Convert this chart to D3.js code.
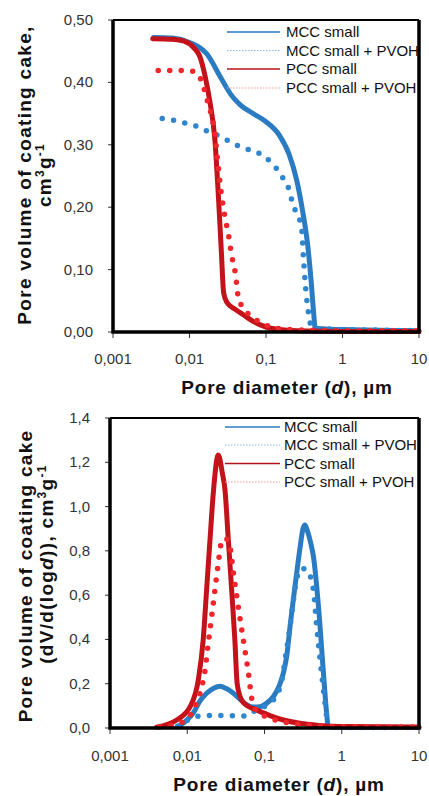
<!DOCTYPE html>
<html>
<head>
<meta charset="utf-8">
<script src="https://cdn.jsdelivr.net/npm/d3@7"></script>
<style>
    body { margin: 0; background: #fff; }
    svg { display: block; font-family: 'Liberation Sans', Arial, sans-serif; }
</style>
</head>
<body>
<svg id="chart" width="429" height="796"></svg>
<script>
// Series names (legend)
const seriesNames = ['MCC small', 'MCC small + PVOH', 'PCC small', 'PCC small + PVOH'];

// x axis (pore diameter, µm)
const xTicks = [0.001, 0.01, 0.1, 1, 10];
const xTickLabels = ['0,001', '0,01', '0,1', '1', '10'];

// top chart: cumulative pore volume, cm3/g  [d, value]
const topTicks = [0, 0.1, 0.2, 0.3, 0.4, 0.5];
const topTickLabels = ['0,00', '0,10', '0,20', '0,30', '0,40', '0,50'];
const topMcc = [[0.0034,0.472],[0.006,0.471],[0.01,0.464],[0.017,0.445],[0.025,0.41],[0.035,0.38],[0.046,0.364],[0.068,0.35],[0.1,0.337],[0.15,0.315],[0.2,0.285],[0.25,0.245],[0.3,0.195],[0.35,0.14],[0.39,0.08],[0.42,0.03],[0.44,0.006],[0.6,0.005],[1,0.004],[3,0.003],[10,0.002]];
const topMccPvoh = [[0.0044,0.342],[0.0064,0.339],[0.0093,0.334],[0.0136,0.328],[0.019,0.319],[0.026,0.313],[0.037,0.302],[0.053,0.294],[0.076,0.288],[0.1,0.279],[0.135,0.263],[0.166,0.247],[0.2,0.228],[0.22,0.209],[0.25,0.19],[0.29,0.17],[0.31,0.115],[0.33,0.07],[0.36,0.03],[0.40,0.006],[0.6,0.005],[1,0.004],[3,0.003],[10,0.002]];
const topPcc = [[0.0033,0.47],[0.006,0.469],[0.0085,0.466],[0.0115,0.455],[0.0137,0.441],[0.016,0.41],[0.0186,0.367],[0.0214,0.31],[0.024,0.212],[0.026,0.132],[0.028,0.062],[0.031,0.047],[0.04,0.036],[0.05,0.028],[0.068,0.017],[0.1,0.008],[0.15,0.004],[0.25,0.002],[1,0.001],[10,0.001]];
const topPccPvoh = [[0.0039,0.419],[0.006,0.419],[0.0085,0.419],[0.0118,0.417],[0.0146,0.40],[0.017,0.372],[0.0195,0.345],[0.0214,0.319],[0.023,0.281],[0.026,0.223],[0.029,0.185],[0.032,0.159],[0.036,0.119],[0.039,0.10],[0.041,0.08],[0.043,0.059],[0.049,0.04],[0.062,0.027],[0.1,0.011],[0.2,0.004],[1,0.002],[10,0.002]];

// bottom chart: dV/d(log d), cm3/g  [d, value]
const botTicks = [0, 0.2, 0.4, 0.6, 0.8, 1.0, 1.2, 1.4];
const botTickLabels = ['0,0', '0,2', '0,4', '0,6', '0,8', '1,0', '1,2', '1,4'];
const botMcc = [[0.0075,0.005],[0.0095,0.03],[0.012,0.068],[0.0145,0.12],[0.0178,0.157],[0.022,0.18],[0.0266,0.188],[0.032,0.178],[0.0396,0.157],[0.05,0.125],[0.059,0.104],[0.07,0.095],[0.087,0.096],[0.105,0.11],[0.13,0.141],[0.155,0.19],[0.176,0.25],[0.195,0.33],[0.214,0.458],[0.24,0.6],[0.261,0.70],[0.29,0.82],[0.315,0.9],[0.334,0.917],[0.36,0.89],[0.40,0.83],[0.43,0.774],[0.50,0.548],[0.58,0.247],[0.64,0.06],[0.67,0.005],[1,0.002],[10,0.002]];
const botMccPvoh = [[0.0075,0.008],[0.0089,0.021],[0.0105,0.04],[0.0126,0.052],[0.0186,0.056],[0.027,0.057],[0.039,0.055],[0.056,0.054],[0.07,0.072],[0.087,0.09],[0.105,0.1],[0.13,0.126],[0.168,0.217],[0.19,0.337],[0.214,0.458],[0.237,0.578],[0.26,0.67],[0.3,0.72],[0.35,0.715],[0.43,0.623],[0.47,0.473],[0.52,0.322],[0.58,0.172],[0.64,0.051],[0.68,0.005],[1,0.003],[10,0.002]];
const botPcc = [[0.004,0.004],[0.0073,0.036],[0.0109,0.096],[0.0139,0.217],[0.0161,0.40],[0.0178,0.623],[0.0197,0.85],[0.0219,1.075],[0.0252,1.233],[0.0285,1.15],[0.0308,1.075],[0.034,0.85],[0.0376,0.623],[0.0413,0.40],[0.0443,0.20],[0.0506,0.126],[0.06,0.1],[0.0794,0.081],[0.12,0.055],[0.176,0.036],[0.3,0.02],[0.47,0.013],[1,0.007],[10,0.004]];
const botPccPvoh = [[0.0044,0.004],[0.0089,0.028],[0.0119,0.081],[0.0146,0.157],[0.017,0.262],[0.0187,0.383],[0.0207,0.503],[0.0228,0.623],[0.0252,0.744],[0.0278,0.84],[0.031,0.857],[0.0357,0.819],[0.0396,0.70],[0.0457,0.548],[0.0532,0.397],[0.062,0.247],[0.0682,0.134],[0.075,0.09],[0.087,0.066],[0.176,0.028],[0.4,0.012],[1,0.006],[10,0.004]];

const colors = ['#2a7bc2', '#2f86cf', '#c4121a', '#f0262a'];
const legendColors = ['#2a7bc2', '#8fb8de', '#b3141c', '#f09a9a'];

const svg = d3.select('#chart');

// Draw one panel
function drawPanel(cfg) {
    const g = svg.append('g');
    const x = d3.scaleLog().domain([0.001, 10]).range([cfg.left, cfg.right]);
    const y = d3.scaleLinear().domain([0, cfg.yMax]).range([cfg.bottom, cfg.top]);

    // y ticks
    g.selectAll('.ytick').data(cfg.yTicks).enter().append('line')
        .attr('x1', cfg.left - 5).attr('x2', cfg.left)
        .attr('y1', d => y(d)).attr('y2', d => y(d))
        .attr('stroke', '#333').attr('stroke-width', 1);
    g.selectAll('.ylab').data(cfg.yTicks).enter().append('text')
        .attr('x', cfg.left - 20).attr('y', d => y(d) + 5)
        .attr('text-anchor', 'end').attr('font-size', 15).attr('fill', '#333')
        .text((d, i) => cfg.yLabels[i]);

    // x ticks
    g.selectAll('.xtick').data(xTicks).enter().append('line')
        .attr('x1', d => x(d)).attr('x2', d => x(d))
        .attr('y1', cfg.bottom).attr('y2', cfg.bottom + 6)
        .attr('stroke', '#333').attr('stroke-width', 1);
    g.selectAll('.xlab').data(xTicks).enter().append('text')
        .attr('x', d => x(d)).attr('y', cfg.xLabelY)
        .attr('text-anchor', 'middle').attr('font-size', 15).attr('fill', '#333')
        .text((d, i) => xTickLabels[i]);

    // series
    const line = d3.line()
        .x(d => x(d[0]))
        .y(d => y(d[1]))
        .curve(d3.curveMonotoneX);
    cfg.series.forEach((s, i) => {
        const dotted = i % 2 === 1;
        g.append('path')
            .attr('d', line(s))
            .attr('fill', 'none')
            .attr('stroke', colors[i])
            .attr('stroke-width', dotted ? 5.5 : 5)
            .attr('stroke-linecap', 'round')
            .attr('stroke-linejoin', 'round')
            .attr('stroke-dasharray', dotted ? '0 11.5' : null);
    });

    // frame
    g.append('line').attr('x1', cfg.left).attr('x2', cfg.right).attr('y1', cfg.top).attr('y2', cfg.top)
        .attr('stroke', '#000').attr('stroke-width', 2);
    g.append('path')
        .attr('d', `M${cfg.left},${cfg.top}V${cfg.bottom}H${cfg.right}V${cfg.top}`)
        .attr('fill', 'none').attr('stroke', '#000').attr('stroke-width', 3.5);

    // legend
    const leg = g.selectAll('.leg').data(seriesNames).enter().append('g')
        .attr('transform', (d, i) => `translate(0,${cfg.legendY[i]})`);
    leg.append('line')
        .attr('x1', cfg.legendX1).attr('x2', 280)
        .attr('stroke', (d, i) => legendColors[i])
        .attr('stroke-width', (d, i) => i % 2 ? 1.2 : 1.5)
        .attr('stroke-dasharray', (d, i) => i % 2 ? '1.5 1.5' : null);
    leg.append('text')
        .attr('x', cfg.legendX1 + 59).attr('y', 5)
        .attr('font-size', 15).attr('fill', '#111')
        .text(d => d);

    // x title
    const xt = g.append('text')
        .attr('x', cfg.xTitleX).attr('y', cfg.xTitleY)
        .attr('text-anchor', 'middle').attr('font-size', 19).attr('font-weight', 'bold')
        .attr('letter-spacing', 0.8).attr('fill', '#111');
    xt.append('tspan').text('Pore diameter (');
    xt.append('tspan').attr('font-style', 'italic').text('d');
    xt.append('tspan').text('), µm');

    // y title
    cfg.yTitle.forEach(t => {
        const yt = g.append('text')
            .attr('transform', `translate(${t.x},${t.cy}) rotate(-90)`)
            .attr('text-anchor', 'middle').attr('font-size', 19).attr('font-weight', 'bold')
            .attr('letter-spacing', 1.3).attr('fill', '#111');
        t.parts.forEach(p => {
            const ts = yt.append('tspan').text(p.t);
            if (p.i) ts.attr('font-style', 'italic');
            if (p.sup) ts.attr('baseline-shift', 'super').attr('font-size', 12);
        });
    });
}

drawPanel({
    left: 113, top: 20, right: 419, bottom: 332, yMax: 0.5,
    yTicks: topTicks, yLabels: topTickLabels, xLabelY: 364,
    series: [topMcc, topMccPvoh, topPcc, topPccPvoh],
    legendY: [32, 50.5, 69, 88], legendX1: 227,
    xTitleX: 287, xTitleY: 394,
    yTitle: [
        { x: 31, cy: 175, parts: [{ t: 'Pore volume of coating cake,' }] },
        { x: 51, cy: 175, parts: [{ t: 'cm' }, { t: '3', sup: true }, { t: 'g' }, { t: '-1', sup: true }] }
    ]
});

drawPanel({
    left: 110, top: 418, right: 419, bottom: 728, yMax: 1.4,
    yTicks: botTicks, yLabels: botTickLabels, xLabelY: 761,
    series: [botMcc, botMccPvoh, botPcc, botPccPvoh],
    legendY: [427, 445, 463.5, 482], legendX1: 225,
    xTitleX: 279, xTitleY: 791,
    yTitle: [
        { x: 32, cy: 576, parts: [{ t: 'Pore volume of coating cake' }] },
        { x: 53, cy: 564, parts: [{ t: '(dV/d(log' }, { t: 'd', i: true }, { t: ')), cm' }, { t: '3', sup: true }, { t: 'g' }, { t: '-1', sup: true }] }
    ]
});
</script>
</body>
</html>
